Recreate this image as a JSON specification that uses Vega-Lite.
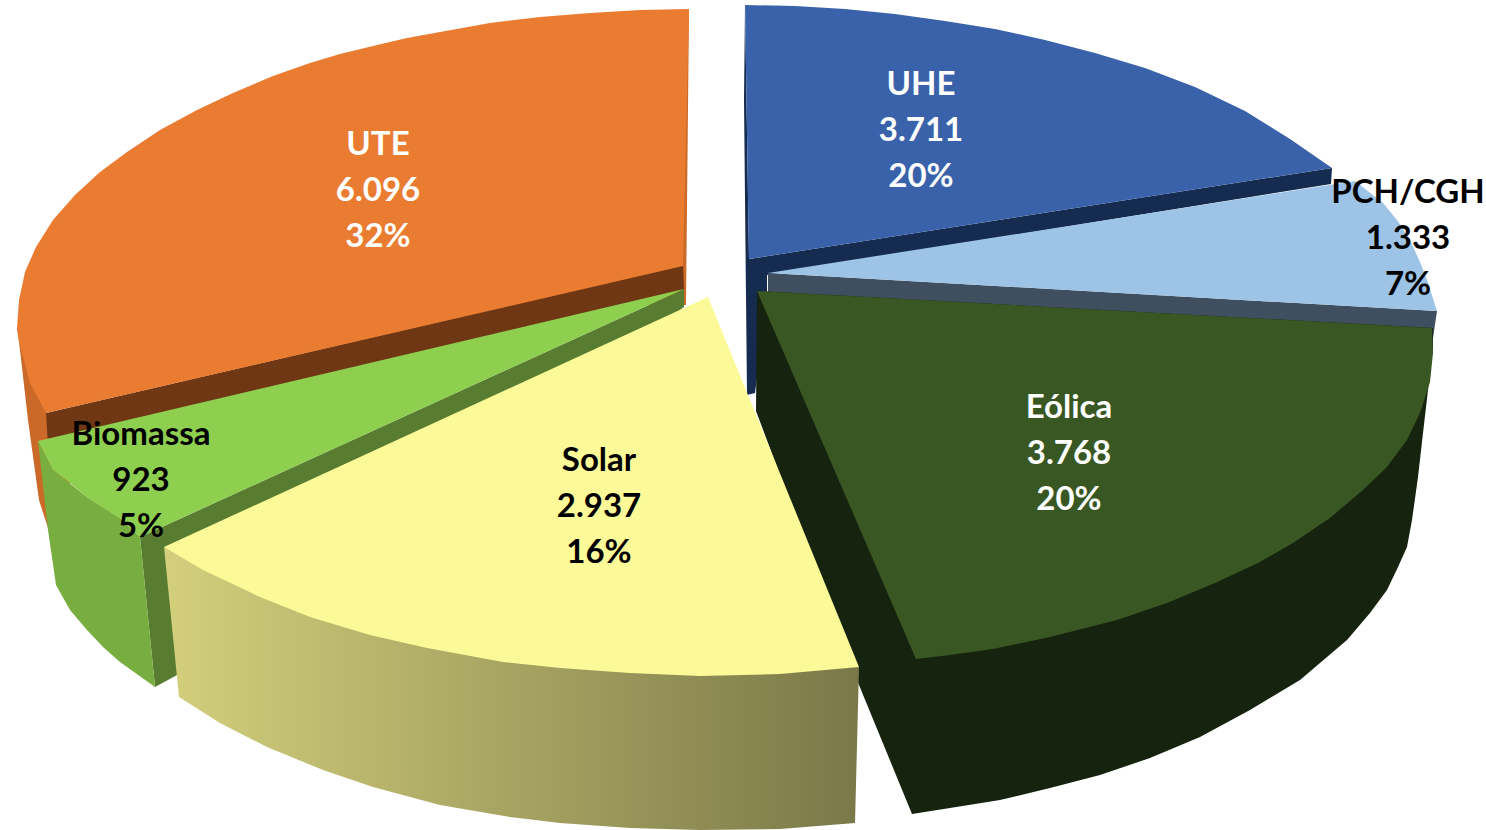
{"$schema":"https://vega.github.io/schema/vega-lite/v6.json","autosize":{"type":"fit","contains":"padding"},"width":1486,"height":830,"padding":0,"background":"white","config":{"view":{"stroke":null}},
"datasets":{"outline":[
{"face":"UTE side","i":0,"x":17,"y":328},{"face":"UTE side","i":1,"x":20,"y":350},{"face":"UTE side","i":2,"x":28,"y":420},{"face":"UTE side","i":3,"x":39,"y":500},{"face":"UTE side","i":4,"x":48,"y":528},{"face":"UTE side","i":5,"x":70,"y":528},{"face":"UTE side","i":6,"x":70,"y":413},{"face":"UTE side","i":7,"x":46,"y":413},
{"face":"UTE side","i":8,"x":689,"y":9},{"face":"UTE side","i":9,"x":686,"y":305},{"face":"UTE side","i":10,"x":600,"y":305},
{"face":"UTE cut","i":0,"x":683,"y":265},{"face":"UTE cut","i":1,"x":46,"y":413},{"face":"UTE cut","i":2,"x":48,"y":445},{"face":"UTE cut","i":3,"x":684,"y":290},
{"face":"UTE top","i":0,"x":689,"y":9},{"face":"UTE top","i":1,"x":683,"y":266},{"face":"UTE top","i":2,"x":46,"y":413},{"face":"UTE top","i":3,"x":30,"y":383},{"face":"UTE top","i":4,"x":20,"y":345},{"face":"UTE top","i":5,"x":17,"y":328},{"face":"UTE top","i":6,"x":19,"y":300},{"face":"UTE top","i":7,"x":25,"y":272},{"face":"UTE top","i":8,"x":36,"y":247},{"face":"UTE top","i":9,"x":53,"y":220},{"face":"UTE top","i":10,"x":75,"y":195},{"face":"UTE top","i":11,"x":100,"y":172},{"face":"UTE top","i":12,"x":127,"y":152},{"face":"UTE top","i":13,"x":160,"y":130},{"face":"UTE top","i":14,"x":197,"y":110},{"face":"UTE top","i":15,"x":233,"y":93},{"face":"UTE top","i":16,"x":273,"y":76},{"face":"UTE top","i":17,"x":310,"y":63},{"face":"UTE top","i":18,"x":340,"y":54},{"face":"UTE top","i":19,"x":373,"y":46},{"face":"UTE top","i":20,"x":407,"y":38},{"face":"UTE top","i":21,"x":440,"y":32},{"face":"UTE top","i":22,"x":490,"y":23},{"face":"UTE top","i":23,"x":540,"y":17},{"face":"UTE top","i":24,"x":590,"y":13},{"face":"UTE top","i":25,"x":640,"y":10},
{"face":"UHE cut","i":0,"x":745,"y":5},{"face":"UHE cut","i":1,"x":749,"y":259},{"face":"UHE cut","i":2,"x":1332,"y":168},{"face":"UHE cut","i":3,"x":1331,"y":184},{"face":"UHE cut","i":4,"x":767,"y":275},{"face":"UHE cut","i":5,"x":767,"y":300},{"face":"UHE cut","i":6,"x":755,"y":393},{"face":"UHE cut","i":7,"x":747,"y":395},{"face":"UHE cut","i":8,"x":744,"y":100},
{"face":"UHE top","i":0,"x":745,"y":5},{"face":"UHE top","i":1,"x":795,"y":6},{"face":"UHE top","i":2,"x":845,"y":9},{"face":"UHE top","i":3,"x":895,"y":14},{"face":"UHE top","i":4,"x":945,"y":21},{"face":"UHE top","i":5,"x":995,"y":29},{"face":"UHE top","i":6,"x":1045,"y":40},{"face":"UHE top","i":7,"x":1095,"y":53},{"face":"UHE top","i":8,"x":1145,"y":68},{"face":"UHE top","i":9,"x":1195,"y":87},{"face":"UHE top","i":10,"x":1245,"y":111},{"face":"UHE top","i":11,"x":1290,"y":139},{"face":"UHE top","i":12,"x":1332,"y":168},{"face":"UHE top","i":13,"x":749,"y":259},
{"face":"PCH cut","i":0,"x":768,"y":273},{"face":"PCH cut","i":1,"x":1437,"y":311},{"face":"PCH cut","i":2,"x":1432,"y":345},{"face":"PCH cut","i":3,"x":768,"y":300},
{"face":"PCH top","i":0,"x":768,"y":273},{"face":"PCH top","i":1,"x":1355,"y":181},{"face":"PCH top","i":2,"x":1383,"y":203},{"face":"PCH top","i":3,"x":1397,"y":220},{"face":"PCH top","i":4,"x":1410,"y":240},{"face":"PCH top","i":5,"x":1420,"y":262},{"face":"PCH top","i":6,"x":1427,"y":280},{"face":"PCH top","i":7,"x":1437,"y":311},
{"face":"Eólica side","i":0,"x":757,"y":291},{"face":"Eólica side","i":1,"x":756,"y":411},{"face":"Eólica side","i":2,"x":859,"y":685},{"face":"Eólica side","i":3,"x":912,"y":814},{"face":"Eólica side","i":4,"x":950,"y":808},{"face":"Eólica side","i":5,"x":1000,"y":800},{"face":"Eólica side","i":6,"x":1050,"y":788},{"face":"Eólica side","i":7,"x":1100,"y":775},{"face":"Eólica side","i":8,"x":1150,"y":758},{"face":"Eólica side","i":9,"x":1200,"y":737},{"face":"Eólica side","i":10,"x":1250,"y":710},{"face":"Eólica side","i":11,"x":1300,"y":680},{"face":"Eólica side","i":12,"x":1347,"y":640},{"face":"Eólica side","i":13,"x":1370,"y":613},{"face":"Eólica side","i":14,"x":1387,"y":590},{"face":"Eólica side","i":15,"x":1398,"y":567},{"face":"Eólica side","i":16,"x":1407,"y":547},{"face":"Eólica side","i":17,"x":1412,"y":520},{"face":"Eólica side","i":18,"x":1418,"y":477},{"face":"Eólica side","i":19,"x":1423,"y":433},{"face":"Eólica side","i":20,"x":1428,"y":390},{"face":"Eólica side","i":21,"x":1433,"y":347},{"face":"Eólica side","i":22,"x":1433,"y":328},
{"face":"Eólica top","i":0,"x":757,"y":291},{"face":"Eólica top","i":1,"x":1432,"y":328},{"face":"Eólica top","i":2,"x":1433,"y":353},{"face":"Eólica top","i":3,"x":1430,"y":382},{"face":"Eólica top","i":4,"x":1420,"y":413},{"face":"Eólica top","i":5,"x":1407,"y":440},{"face":"Eólica top","i":6,"x":1387,"y":467},{"face":"Eólica top","i":7,"x":1363,"y":490},{"face":"Eólica top","i":8,"x":1330,"y":518},{"face":"Eólica top","i":9,"x":1293,"y":543},{"face":"Eólica top","i":10,"x":1258,"y":563},{"face":"Eólica top","i":11,"x":1215,"y":583},{"face":"Eólica top","i":12,"x":1167,"y":603},{"face":"Eólica top","i":13,"x":1117,"y":620},{"face":"Eólica top","i":14,"x":1050,"y":637},{"face":"Eólica top","i":15,"x":993,"y":649},{"face":"Eólica top","i":16,"x":950,"y":655},{"face":"Eólica top","i":17,"x":916,"y":659},
{"face":"Biomassa cut","i":0,"x":684,"y":289},{"face":"Biomassa cut","i":1,"x":140,"y":537},{"face":"Biomassa cut","i":2,"x":155,"y":687},{"face":"Biomassa cut","i":3,"x":190,"y":668},{"face":"Biomassa cut","i":4,"x":684,"y":307},
{"face":"Biomassa side","i":0,"x":38,"y":441},{"face":"Biomassa side","i":1,"x":53,"y":470},{"face":"Biomassa side","i":2,"x":87,"y":497},{"face":"Biomassa side","i":3,"x":120,"y":518},{"face":"Biomassa side","i":4,"x":140,"y":537},{"face":"Biomassa side","i":5,"x":155,"y":687},{"face":"Biomassa side","i":6,"x":120,"y":662},{"face":"Biomassa side","i":7,"x":103,"y":647},{"face":"Biomassa side","i":8,"x":87,"y":630},{"face":"Biomassa side","i":9,"x":70,"y":610},{"face":"Biomassa side","i":10,"x":56,"y":585},{"face":"Biomassa side","i":11,"x":48,"y":530},
{"face":"Biomassa top","i":0,"x":684,"y":289},{"face":"Biomassa top","i":1,"x":38,"y":441},{"face":"Biomassa top","i":2,"x":53,"y":470},{"face":"Biomassa top","i":3,"x":70,"y":483},{"face":"Biomassa top","i":4,"x":87,"y":497},{"face":"Biomassa top","i":5,"x":107,"y":510},{"face":"Biomassa top","i":6,"x":120,"y":518},{"face":"Biomassa top","i":7,"x":140,"y":537}
],
"solarSide":[
{"face":"Solar side","i":0,"x":164,"y":547},{"face":"Solar side","i":1,"x":179,"y":697},{"face":"Solar side","i":2,"x":220,"y":723},{"face":"Solar side","i":3,"x":267,"y":747},{"face":"Solar side","i":4,"x":323,"y":770},{"face":"Solar side","i":5,"x":373,"y":787},{"face":"Solar side","i":6,"x":440,"y":805},{"face":"Solar side","i":7,"x":510,"y":817},{"face":"Solar side","i":8,"x":560,"y":823},{"face":"Solar side","i":9,"x":630,"y":828},{"face":"Solar side","i":10,"x":700,"y":830},{"face":"Solar side","i":11,"x":780,"y":829},{"face":"Solar side","i":12,"x":855,"y":823},{"face":"Solar side","i":13,"x":859,"y":667}
],
"solarTop":[
{"face":"Solar top","i":0,"x":708,"y":297},{"face":"Solar top","i":1,"x":164,"y":547},{"face":"Solar top","i":2,"x":203,"y":570},{"face":"Solar top","i":3,"x":260,"y":597},{"face":"Solar top","i":4,"x":310,"y":617},{"face":"Solar top","i":5,"x":370,"y":635},{"face":"Solar top","i":6,"x":427,"y":648},{"face":"Solar top","i":7,"x":503,"y":662},{"face":"Solar top","i":8,"x":560,"y":668},{"face":"Solar top","i":9,"x":630,"y":673},{"face":"Solar top","i":10,"x":700,"y":676},{"face":"Solar top","i":11,"x":780,"y":674},{"face":"Solar top","i":12,"x":859,"y":667}
],
"slices":[
{"slice":"UTE","value":"6.096","share":"32%","x":378,"y":191},
{"slice":"UHE","value":"3.711","share":"20%","x":921,"y":131},
{"slice":"PCH/CGH","value":"1.333","share":"7%","x":1408,"y":239},
{"slice":"Eólica","value":"3.768","share":"20%","x":1069,"y":454},
{"slice":"Solar","value":"2.937","share":"16%","x":599,"y":507},
{"slice":"Biomassa","value":"923","share":"5%","x":141,"y":481}
]},
"encoding":{
"x":{"field":"x","type":"quantitative","scale":{"domain":[0,1486],"nice":false,"zero":false},"axis":null},
"y":{"field":"y","type":"quantitative","scale":{"domain":[830,0],"nice":false,"zero":false},"axis":null}
},
"layer":[
{"data":{"name":"outline"},"mark":{"type":"line","filled":true,"interpolate":"linear-closed","strokeWidth":0},
"encoding":{"order":{"field":"i","type":"quantitative"},
"color":{"field":"face","type":"nominal","legend":null,"scale":{
"domain":["UTE side","UTE cut","UTE top","UHE cut","UHE top","PCH cut","PCH top","Eólica side","Eólica top","Biomassa cut","Biomassa side","Biomassa top"],
"range":["#CB6A28","#6F3714","#EA7C31","#152B50","#3A62AA","#3F4F5F","#9DC3E6","#16230F","#385723","#587C30","#78AD40","#8ECF4F"]}}}},
{"data":{"name":"solarSide"},"mark":{"type":"line","filled":true,"interpolate":"linear-closed","strokeWidth":0,"color":{"gradient":"linear","x1":0,"y1":0,"x2":1,"y2":0,"stops":[{"offset":0,"color":"#D3CF7C"},{"offset":1,"color":"#7A7848"}]}},
"encoding":{"order":{"field":"i","type":"quantitative"}}},
{"data":{"name":"solarTop"},"mark":{"type":"line","filled":true,"interpolate":"linear-closed","strokeWidth":0,"color":"#FCFA98"},
"encoding":{"order":{"field":"i","type":"quantitative"}}},
{"data":{"name":"slices"},"mark":{"type":"text","font":"Lato","fontWeight":"bold","fontSize":33,"baseline":"middle","align":"center","dy":-46},
"encoding":{"text":{"field":"slice","type":"nominal"},"color":{"condition":{"test":"datum.slice==='UTE'||datum.slice==='UHE'||datum.slice==='Eólica'","value":"white"},"value":"black"}}},
{"data":{"name":"slices"},"mark":{"type":"text","font":"Lato","fontWeight":"bold","fontSize":33,"baseline":"middle","align":"center"},
"encoding":{"text":{"field":"value","type":"nominal"},"color":{"condition":{"test":"datum.slice==='UTE'||datum.slice==='UHE'||datum.slice==='Eólica'","value":"white"},"value":"black"}}},
{"data":{"name":"slices"},"mark":{"type":"text","font":"Lato","fontWeight":"bold","fontSize":33,"baseline":"middle","align":"center","dy":46},
"encoding":{"text":{"field":"share","type":"nominal"},"color":{"condition":{"test":"datum.slice==='UTE'||datum.slice==='UHE'||datum.slice==='Eólica'","value":"white"},"value":"black"}}}
]}
